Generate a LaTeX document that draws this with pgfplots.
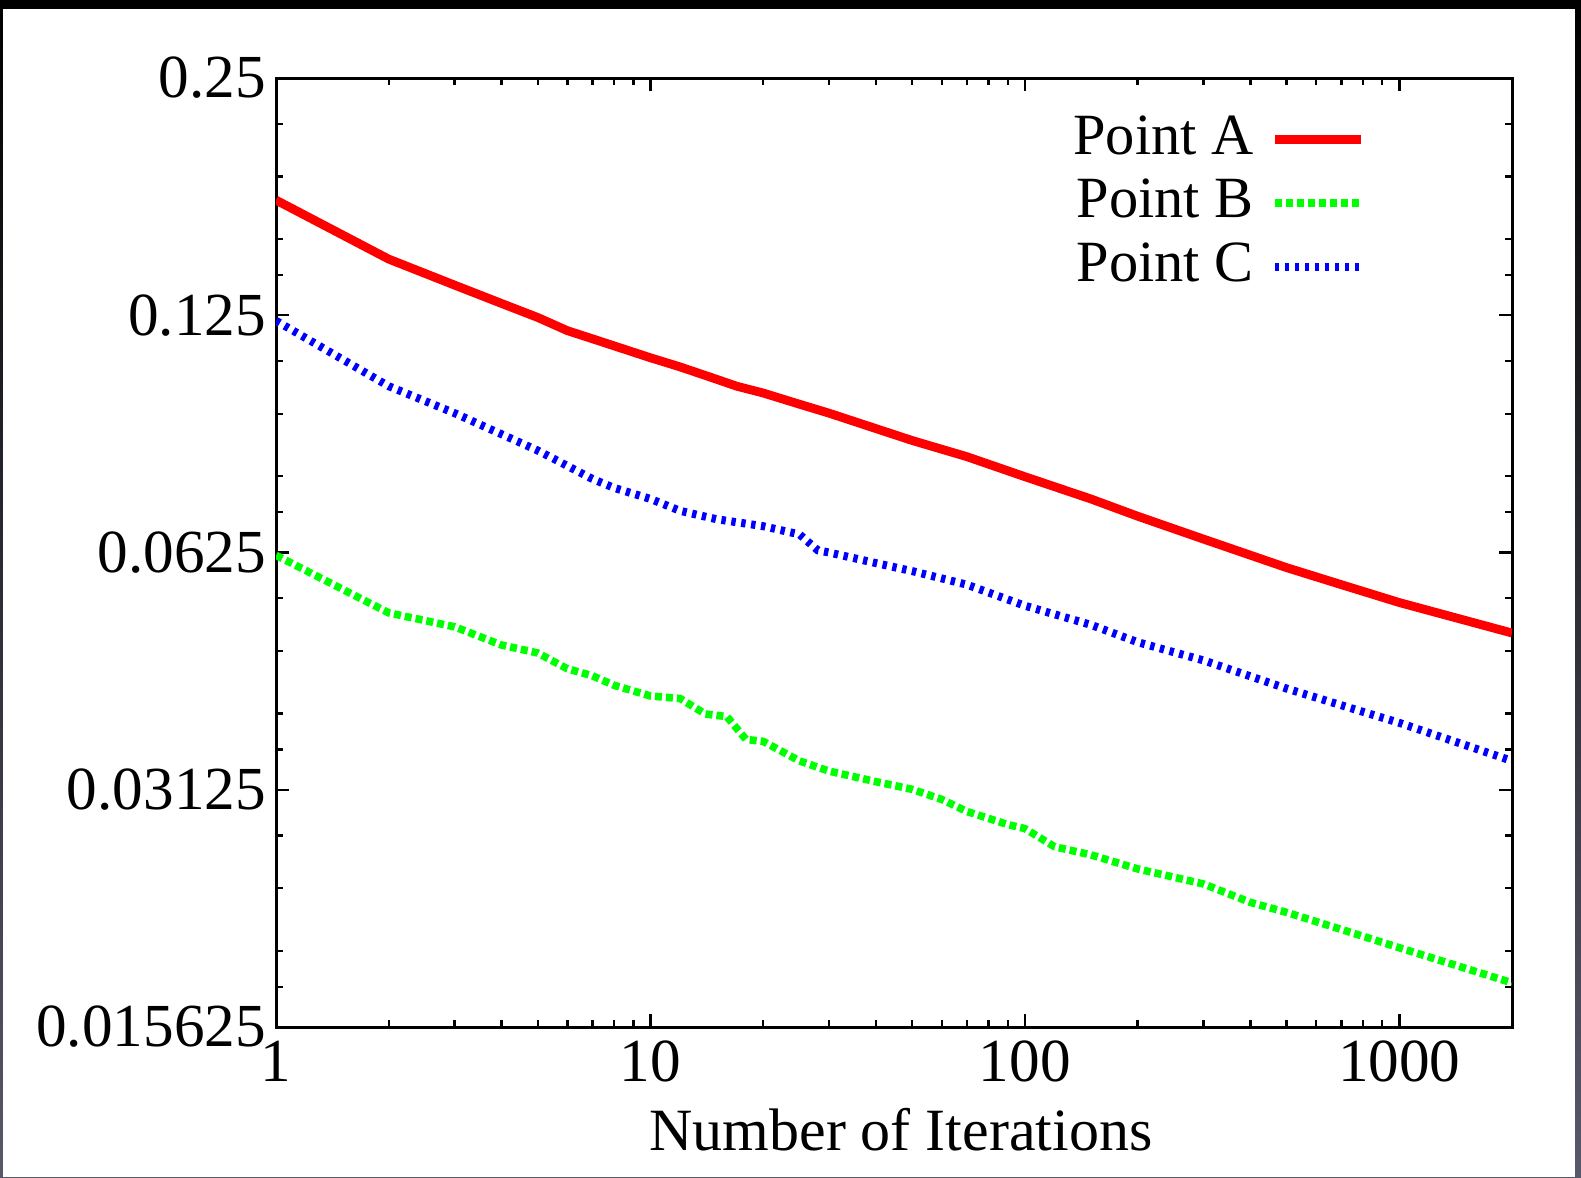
\documentclass[border=0pt]{standalone}
\usepackage{fontspec}
\setmainfont{Liberation Serif}
\usepackage{pgfplots}
\pgfplotsset{compat=1.18}
\definecolor{gpred}{RGB}{255,0,0}
\definecolor{gpgreen}{RGB}{0,255,0}
\definecolor{gpblue}{RGB}{0,0,255}
\definecolor{frameside}{RGB}{88,88,108}
\newcommand{\tickfont}{\fontsize{15.3}{18}\selectfont}
\newcommand{\lblfont}{\fontsize{15}{18}\selectfont}
\newcommand{\keyfont}{\fontsize{14.6}{17}\selectfont}

\begin{document}
\begin{tikzpicture}
% screenshot frame
\shade[top color=black, bottom color=frameside] (0,0) rectangle (395.25pt,294.25pt);
\fill[white] (0.75pt,0) rectangle (393.75pt,292pt);
\begin{axis}[
  at={(69pt,37.5pt)}, anchor=south west,
  scale only axis, width=309pt, height=237.25pt,
  xmode=log, ymode=log, log basis y=2,
  xmin=1, xmax=2000, ymin=0.015625, ymax=0.25,
  xtick={1,10,100,1000}, xticklabels={1,10,100,1000},
  minor xtick={2,3,4,5,6,7,8,9,20,30,40,50,60,70,80,90,200,300,400,500,600,700,800,900},
  ytick={0.015625,0.03125,0.0625,0.125,0.25},
  yticklabels={0.015625,0.03125,0.0625,0.125,0.25},
  extra y ticks={0.017578125,0.01953125,0.0234375,0.02734375,
    0.03515625,0.0390625,0.046875,0.0546875,
    0.0703125,0.078125,0.09375,0.109375,
    0.140625,0.15625,0.1875,0.21875},
  extra y tick labels={},
  extra y tick style={major tick length=1.75pt},
  axis line style={line width=0.75pt},
  every tick/.style={black, line width=0.6pt},
  major tick length=3.25pt, minor tick length=1.75pt,
  tick label style={font=\tickfont},
  yticklabel style={xshift=1pt},
  xlabel={Number of Iterations},
  xlabel style={font=\lblfont, at={(axis description cs:0.5,0)}, anchor=base, yshift=-30.75pt, xshift=1.75pt},
  legend plot pos=right,
  legend cell align=right,
  legend style={draw=none, fill=none, at={(axis description cs:0.8917,0.9748)}, anchor=north east,
    font=\keyfont, nodes={inner sep=0pt, text height=10.9pt, text depth=5pt}, row sep=0pt,
    /tikz/every odd column/.append style={column sep=4.25pt}},
  legend image code/.code={\draw[#1] (0pt,0.75pt) -- (21.5pt,0.75pt);},
]
\addplot[gpred, line width=2.2pt] coordinates {
  (1,0.1750) (2,0.1473) (3,0.1365) (4,0.1294) (5,0.1242) (6,0.1195) (7,0.1167) (8,0.1143)
  (10,0.1104) (12,0.1075) (15,0.1037) (17,0.1016) (20,0.0996) (25,0.0964) (30,0.0939)
  (50,0.0867) (70,0.0827) (100,0.0780) (150,0.0731) (200,0.0695) (300,0.0650)
  (500,0.0598) (700,0.0569) (1000,0.0540) (2000,0.0494)};
\addlegendentry{Point A}
\addplot[gpgreen, line width=1.9pt, dash pattern=on 1.75pt off 1pt] coordinates {
  (1,0.0620) (2,0.0524) (3,0.0503) (4,0.0477) (5,0.0466) (6,0.0445) (7,0.0436) (8,0.0424)
  (10,0.0411) (12,0.0408) (14,0.0390) (16,0.0387) (18,0.0362) (20,0.0360) (25,0.0340)
  (30,0.0330) (40,0.0320) (50,0.03129) (60,0.03038) (70,0.02933) (90,0.02823) (100,0.0279)
  (120,0.02646) (150,0.02584) (200,0.0248) (300,0.02373) (400,0.02249) (500,0.02184)
  (700,0.02078) (1000,0.0197) (2000,0.01778)};
\addlegendentry{Point B}
\addplot[gpblue, line width=2pt, dash pattern=on 1.1pt off 1.4pt] coordinates {
  (1,0.1230) (2,0.1016) (3,0.0939) (5,0.0842) (6,0.0805) (7,0.0775) (8,0.0755)
  (10,0.0731) (12,0.0706) (15,0.0689) (20,0.0675) (25,0.0659) (28,0.0629) (30,0.0625)
  (40,0.0606) (50,0.0592) (70,0.0569) (100,0.0535) (150,0.0506) (200,0.0481)
  (300,0.0456) (500,0.0420) (700,0.0400) (1000,0.0380) (2000,0.0340)};
\addlegendentry{Point C}
\end{axis}
\pgfresetboundingbox
\path[use as bounding box] (0,0) rectangle (395.25pt,294.25pt);
\end{tikzpicture}
\end{document}
